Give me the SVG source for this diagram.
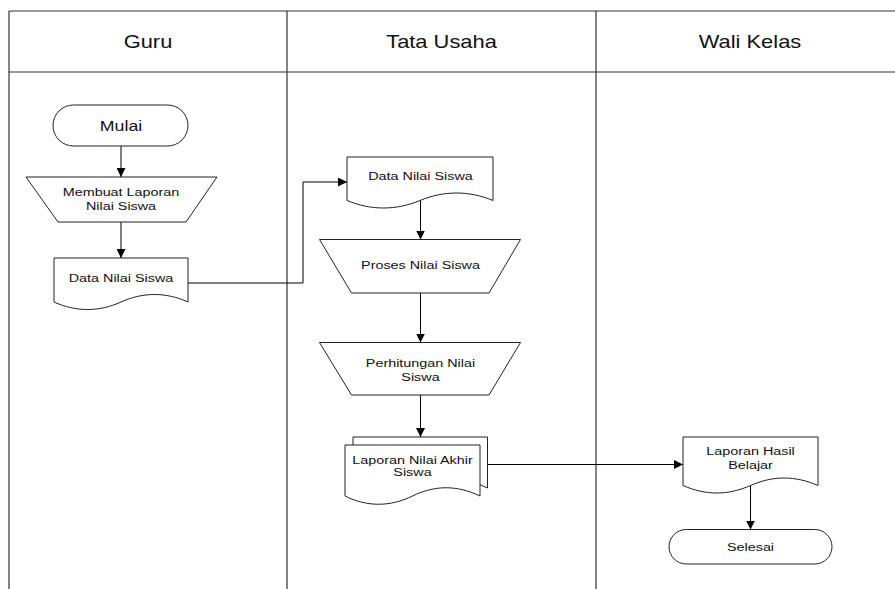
<svg xmlns="http://www.w3.org/2000/svg" width="895" height="589" viewBox="0 0 895 589">
<style>
  .lane { stroke: #333; stroke-width: 1.2; fill: none; }
  .shape { fill: #fff; stroke: #222; stroke-width: 1; }
  .conn { fill: none; stroke: #000; stroke-width: 1; }
  text { font-family: "Liberation Sans", Arial, sans-serif; fill: #111; text-anchor: middle; }
  .hdr { font-size: 17.5px; }
  .big { font-size: 14.2px; }
  .lbl { font-size: 11.5px; }
</style>
<defs>
  <marker id="arr" viewBox="0 0 10 10" refX="10" refY="5" markerWidth="9" markerHeight="9" markerUnits="userSpaceOnUse" orient="auto">
    <path d="M0,0 L10,5 L0,10 Z" fill="#000"/>
  </marker>
</defs>
<rect width="895" height="589" fill="#fff"/>
<g id="swimlanes">
  <path class="lane" d="M9,11 H895 M9,72 H895 M9,11 V589 M287,11 V589 M596,11 V589"/>
  <text class="hdr" transform="translate(148,48) scale(1.25,1)">Guru</text>
  <text class="hdr" transform="translate(441.5,48) scale(1.25,1)">Tata Usaha</text>
  <text class="hdr" transform="translate(750,48) scale(1.25,1)">Wali Kelas</text>
</g>
<g id="connectors">
  <path class="conn" d="M121,146 V177" marker-end="url(#arr)"/>
  <path class="conn" d="M121,222 V258" marker-end="url(#arr)"/>
  <path class="conn" d="M188,283 H303 V182 H347" marker-end="url(#arr)"/>
  <path class="conn" d="M420.5,200.5 V239.5" marker-end="url(#arr)"/>
  <path class="conn" d="M420.5,293 V342.5" marker-end="url(#arr)"/>
  <path class="conn" d="M420.5,395 V437" marker-end="url(#arr)"/>
  <path class="conn" d="M487,464.5 H683" marker-end="url(#arr)"/>
  <path class="conn" d="M750.5,485.5 V529.5" marker-end="url(#arr)"/>
</g>
<g id="mulai">
  <rect class="shape" x="53" y="105" width="135" height="41" rx="20.5"/>
  <text class="big" transform="translate(121,130.5) scale(1.25,1)">Mulai</text>
</g>
<g id="membuat-laporan">
  <path class="shape" d="M26,177 H217 L186,222 H58 Z"/>
  <text class="lbl" transform="translate(121,196) scale(1.25,1)">Membuat Laporan</text>
  <text class="lbl" transform="translate(121,209.5) scale(1.25,1)">Nilai Siswa</text>
</g>
<g id="data-nilai-guru">
  <path class="shape" d="M54,258 H188 V302 C166,292 143,292 121,302 C99,312 76,312 54,302 Z"/>
  <text class="lbl" transform="translate(121,282) scale(1.25,1)">Data Nilai Siswa</text>
</g>
<g id="data-nilai-tu">
  <path class="shape" d="M347,157 H493 V200.5 C469,190.5 444,190.5 420,200.5 C396,210.5 371,210.5 347,200.5 Z"/>
  <text class="lbl" transform="translate(420.5,179.5) scale(1.25,1)">Data Nilai Siswa</text>
</g>
<g id="proses-nilai">
  <path class="shape" d="M319.5,239.5 H520.5 L489,293 H351.5 Z"/>
  <text class="lbl" transform="translate(420.5,269) scale(1.25,1)">Proses Nilai Siswa</text>
</g>
<g id="perhitungan-nilai">
  <path class="shape" d="M319.5,342.5 H520.5 L489,395 H351.5 Z"/>
  <text class="lbl" transform="translate(420.5,366.5) scale(1.25,1)">Perhitungan Nilai</text>
  <text class="lbl" transform="translate(420.5,380.5) scale(1.25,1)">Siswa</text>
</g>
<g id="laporan-nilai-akhir">
  <path class="shape" d="M353,437 H487.5 V488 C465,477 443,477 420,488 C398,499 375,499 353,488 Z"/>
  <path class="shape" d="M345,445 H480 V496 C457,485 435,485 412.5,496 C390,507 367,507 345,496 Z"/>
  <text class="lbl" transform="translate(412.5,463.5) scale(1.25,1)">Laporan Nilai Akhir</text>
  <text class="lbl" transform="translate(412.5,476) scale(1.25,1)">Siswa</text>
</g>
<g id="laporan-hasil">
  <path class="shape" d="M683,437 H818 V485.5 C795,475.5 773,475.5 750.5,485.5 C728,495.5 706,495.5 683,485.5 Z"/>
  <text class="lbl" transform="translate(750.5,455) scale(1.25,1)">Laporan Hasil</text>
  <text class="lbl" transform="translate(750.5,468.5) scale(1.25,1)">Belajar</text>
</g>
<g id="selesai">
  <rect class="shape" x="669" y="529.5" width="163" height="34.5" rx="17.25"/>
  <text class="lbl" transform="translate(750.5,550.5) scale(1.25,1)">Selesai</text>
</g>
</svg>
